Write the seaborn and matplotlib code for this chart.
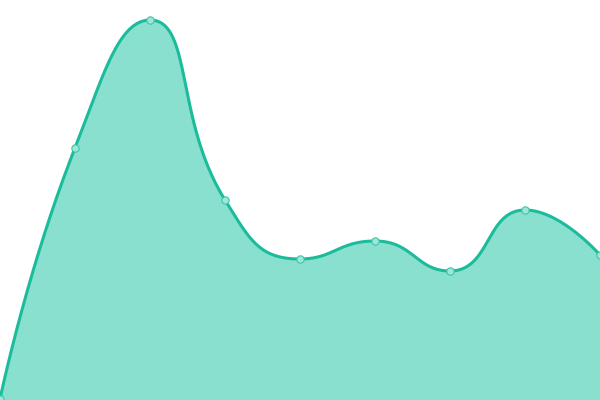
import numpy as np
import matplotlib
matplotlib.use("Agg")
import matplotlib.pyplot as plt
import seaborn as sns

# ==================================================
# DATA
# ==================================================

x_pos = [0, 75, 150, 225, 300, 375, 450, 525, 600]
values = [1, 252, 380, 200, 141, 159, 129, 190, 145]

line_color = "#1abc9c"
fill_color = "#8ae0cf"

# ==================================================
# SMOOTH CURVE (bezier control points, clamped per segment)
# ==================================================

def smooth_curve(xs, ys, smooth=0.5, steps=60):
    p = np.column_stack([xs, ys]).astype(float)
    n = len(p)
    c_in = p.copy()
    c_out = p.copy()
    for i in range(1, n - 1):
        prev, cur, nxt = p[i - 1], p[i], p[i + 1]
        v = nxt - prev
        d0 = np.hypot(*(cur - prev))
        d1 = np.hypot(*(nxt - cur))
        ratio = d1 / (d0 + d1)
        co = cur + v * smooth * ratio
        co = np.minimum(co, np.maximum(nxt, cur))
        co = np.maximum(co, np.minimum(nxt, cur))
        ci = cur - (co - cur) * d0 / d1
        ci = np.minimum(ci, np.maximum(prev, cur))
        ci = np.maximum(ci, np.minimum(prev, cur))
        co = cur + (cur - ci) * d1 / d0
        c_in[i] = ci
        c_out[i] = co
    t = np.linspace(0, 1, steps)[:, None]
    pts = []
    for i in range(n - 1):
        a, b, c, d = p[i], c_out[i], c_in[i + 1], p[i + 1]
        seg = ((1 - t) ** 3) * a + 3 * ((1 - t) ** 2) * t * b + 3 * (1 - t) * t ** 2 * c + t ** 3 * d
        pts.append(seg if i == 0 else seg[1:])
    pts = np.vstack(pts)
    return pts[:, 0], pts[:, 1]

cx, cy = smooth_curve(x_pos, values)

# ==================================================
# PLOT
# ==================================================

sns.set_style("white")

fig = plt.figure(figsize=(6, 4), dpi=100)
ax = fig.add_axes([0, 0, 1, 1])

ax.fill_between(cx, 0, cy, color=fill_color, linewidth=0)

sns.lineplot(x=cx, y=cy, sort=False, color=line_color, linewidth=2.2, ax=ax)

sns.scatterplot(
    x=x_pos,
    y=values,
    s=28,
    color="#9ee6d8",
    edgecolor="#3cc5a9",
    linewidth=0.8,
    zorder=5,
    ax=ax
)

ax.set_xlim(0, 600)
ax.set_ylim(0, 400)
ax.axis("off")

fig.savefig("out.png", dpi=100)
